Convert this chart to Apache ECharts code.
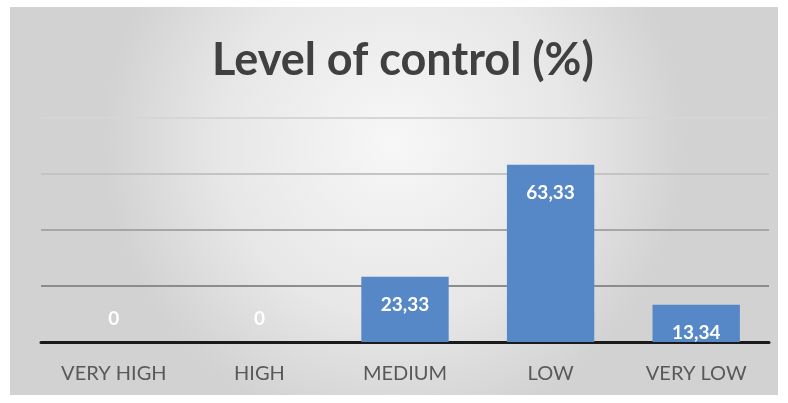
<!DOCTYPE html>
<html>
<head>
<meta charset="utf-8">
<script src="https://cdn.jsdelivr.net/npm/echarts@6/dist/echarts.min.js"></script>
<style>
  html, body { margin: 0; padding: 0; background: #ffffff; }
  #chart { width: 788px; height: 403px; }
</style>
</head>
<body>
<div id="chart"></div>
<script>
// Level of control, share of respondents (%)
const categories = ['VERY HIGH', 'HIGH', 'MEDIUM', 'LOW', 'VERY LOW'];
const values = [0, 0, 23.33, 63.33, 13.34];
const chartTitle = 'Level of control (%)';

const chart = echarts.init(document.getElementById('chart'));

// zero-height bars carry their label just above the axis
const barData = values.map(v => ({
  value: v,
  label: v === 0
    ? { position: 'top', distance: 14 }
    : { position: 'insideTop', distance: 19 }
}));

chart.setOption({
  animation: false,
  backgroundColor: '#ffffff',
  graphic: [{
    type: 'rect',
    z: -10,
    shape: { x: 10, y: 7, width: 768, height: 388 },
    style: {
      fill: {
        type: 'radial', x: 0.5, y: 0.35, r: 0.75,
        colorStops: [
          { offset: 0, color: '#f7f7f7' },
          { offset: 0.6, color: '#e7e7e7' },
          { offset: 1, color: '#d2d2d2' }
        ]
      }
    }
  }],
  title: {
    text: chartTitle,
    left: 207,
    top: 33,
    textStyle: {
      fontFamily: 'Lato',
      fontWeight: 'bold',
      fontSize: 45,
      color: '#404040'
    }
  },
  grid: { left: 41, right: 19, top: 118, bottom: 61 },
  xAxis: {
    type: 'category',
    data: categories,
    axisTick: { show: false },
    axisLine: { lineStyle: { color: '#1a1a1a', width: 3 } },
    axisLabel: {
      margin: 22,
      fontFamily: 'Lato',
      fontSize: 20,
      color: '#595959'
    }
  },
  yAxis: {
    type: 'value',
    min: 0,
    max: 80,
    interval: 20,
    axisLabel: { show: false },
    axisLine: { show: false },
    axisTick: { show: false },
    splitLine: {
      lineStyle: {
        width: 2,
        color: ['#1a1a1a', '#8c8c8c', '#a6a6a6', '#c4c4c4', '#d6d6d6']
      }
    }
  },
  series: [{
    type: 'bar',
    data: barData,
    barWidth: '60%',
    itemStyle: { color: '#5688c7' },
    label: {
      show: true,
      color: '#ffffff',
      fontFamily: 'Lato',
      fontWeight: 'bold',
      fontSize: 19,
      formatter: p => String(p.value).replace('.', ',')
    }
  }]
});
</script>
</body>
</html>
